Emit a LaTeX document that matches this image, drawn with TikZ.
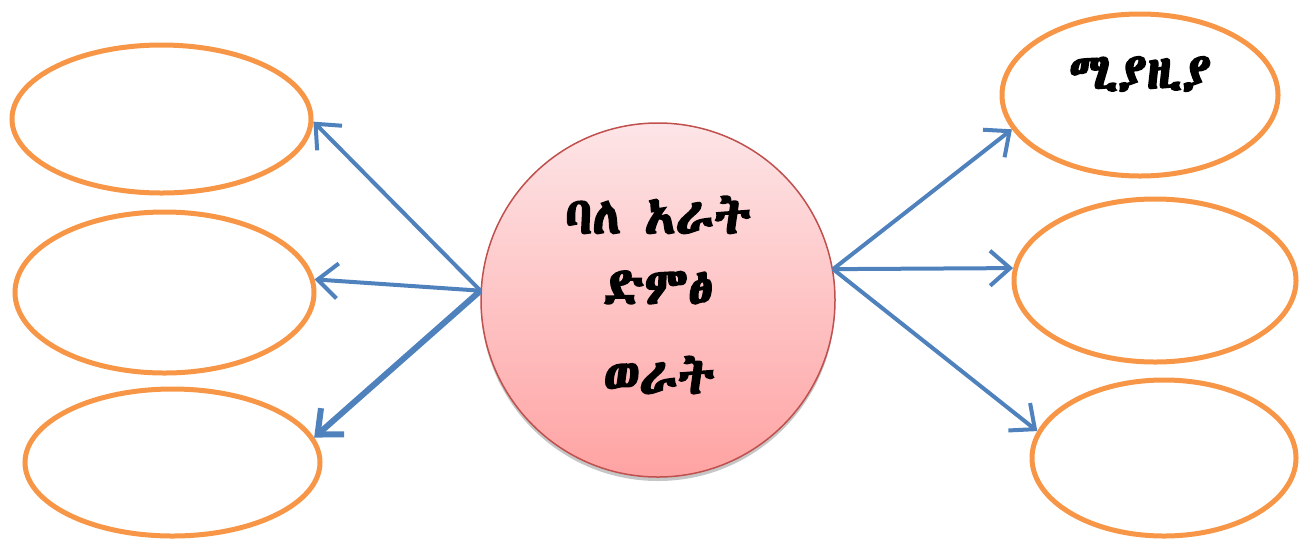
\documentclass[tikz,border=0pt]{standalone}
\usepackage{fontspec}
\IfFontExistsTF{Abyssinica SIL}{\newfontfamily\geez[FakeBold=3.5]{Abyssinica SIL}}{%
\IfFontExistsTF{Noto Sans Ethiopic}{\newfontfamily\geez[FakeBold=3.5]{Noto Sans Ethiopic}}{%
\newfontfamily\geez{DejaVu Sans}}}
\usetikzlibrary{shapes.geometric, arrows.meta, shadows}
\definecolor{linkblue}{HTML}{4F81BD}
\definecolor{rimorange}{HTML}{F79646}
\definecolor{hubred}{HTML}{C0504D}
\definecolor{hubtop}{HTML}{FDE5E7}
\definecolor{hubbottom}{HTML}{FFA3A3}
\begin{document}
\begin{tikzpicture}[x=0.2mm, y=-0.2mm, >={Straight Barb[length=4mm, width=7mm]},
  oval/.style={draw=rimorange, line width=1mm, ellipse, inner sep=0pt},
  link/.style={->, draw=linkblue, line width=0.8mm},
  hubtext/.style={font=\geez\bfseries\fontsize{29}{40}\selectfont, align=center}]
\useasboundingbox (0, 0) rectangle (1301, 540);
\node[circle, draw=hubred, line width=0.3mm, minimum size=70.8mm, inner sep=0pt,
  top color=hubtop, bottom color=hubbottom,
  drop shadow={shadow xshift=0mm, shadow yshift=-0.8mm, opacity=0.45}] (hub) at (658, 300) {};
\node[hubtext] (title) at (658, 250) {ባለ አራት\\ድምፅ};
\node[hubtext] (month) at (659, 375) {ወራት};
% left side
\node[oval, minimum width=59.8mm, minimum height=29.6mm] (l1) at (161.5, 119) {};
\node[oval, minimum width=59.8mm, minimum height=32.2mm] (l2) at (164.5, 292.5) {};
\node[oval, minimum width=59.0mm, minimum height=29.4mm] (l3) at (172.5, 462.5) {};
% right side
\node[oval, minimum width=55.2mm, minimum height=32.4mm] (r1) at (1140, 95) {};
\node[oval, minimum width=56.4mm, minimum height=32.6mm] (r2) at (1155, 280.5) {};
\node[oval, minimum width=52.8mm, minimum height=31.2mm] (r3) at (1164, 458) {};
\node[font=\geez\bfseries\fontsize{28}{30}\selectfont] (april) at (1140, 74) {ሚያዚያ};
\draw[link] (hub.177) -- (l1.-1);
\draw[link] (hub.177) -- (l2.5);
\draw[link, line width=1.2mm] (hub.177) -- (l3.10);
\draw[link] (hub.10) -- (r1.195);
\draw[link] (hub.10) -- (r2.175);
\draw[link] (hub.10) -- (r3.168);
\end{tikzpicture}
\end{document}
